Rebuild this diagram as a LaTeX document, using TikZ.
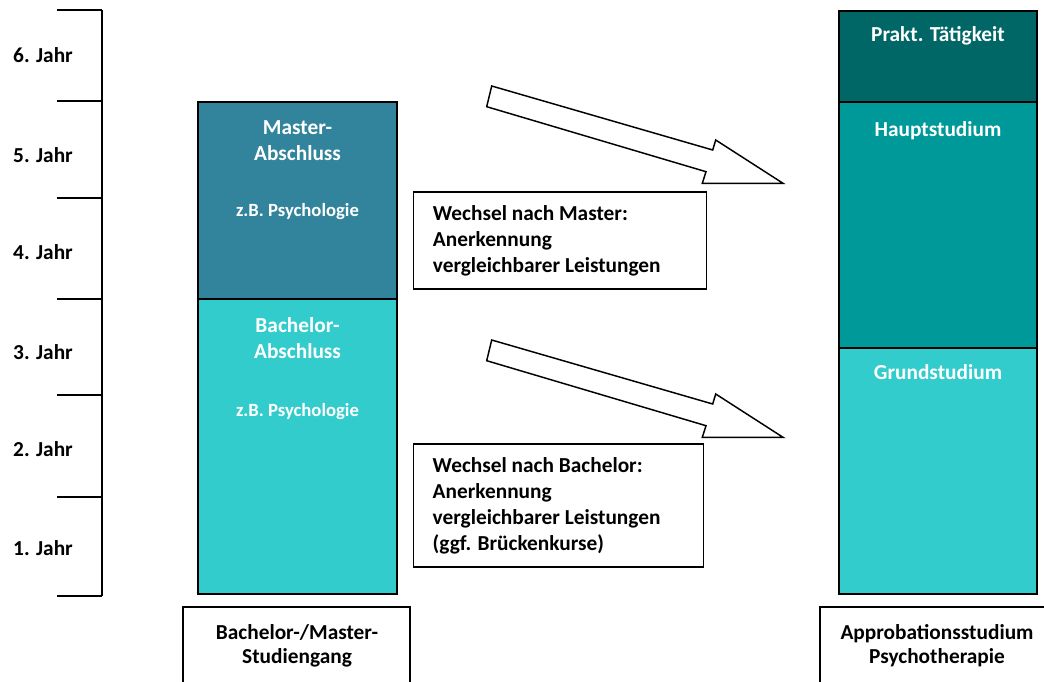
\documentclass[tikz,border=0pt]{standalone}
\usepackage{fontspec}
\setmainfont{Carlito}
\usetikzlibrary{positioning}
\definecolor{masterblue}{RGB}{49,132,155}
\definecolor{bachelorcyan}{RGB}{51,204,204}
\definecolor{hauptteal}{RGB}{0,153,153}
\definecolor{praktteal}{RGB}{0,102,102}

\begin{document}
\begin{tikzpicture}
	[x=0.75pt,y=-0.75pt,line width=1.1pt,
	every node/.style={font=\bfseries\fontsize{16}{19.5}\selectfont},
	block/.style={draw,inner sep=0pt,minimum width=149pt},
	small/.style={font=\bfseries\fontsize{14}{16}\selectfont,text=white},
	head/.style={text=white,align=center},
	infobox/.style={draw,anchor=west,align=flush left,inner xsep=14pt,inner ysep=0pt}]
	\useasboundingbox (0,0) rectangle (1044,681);
	\clip (0,0) rectangle (1044,681);

	% year scale
	\draw (102,10) -- (102,596);
	\foreach \y in {10,101,198,299,395,497,596}
		\draw (57,\y) -- (102,\y);
	\foreach \y/\n in {55/6,155/5,252/4,352/3,449/2,548/1}
		\node[anchor=west,inner sep=0pt] (year\n) at (12.5,\y) {\n. Jahr};

	% bachelor/master column
	\node[block,fill=masterblue,minimum height=147.75pt] (master) at (297.5,200.5) {};
	\node[block,fill=bachelorcyan,minimum height=221.25pt] (bachelor) at (297.5,446.5) {};
	\node[head] (mastertxt) at (297.5,141) {Master-\\Abschluss};
	\node[small] (masterfach) at (297.5,212) {z.B. Psychologie};
	\node[head] (bachelortxt) at (297.5,338) {Bachelor-\\Abschluss};
	\node[small] (bachelorfach) at (297.5,412) {z.B. Psychologie};

	% approbation column
	\node[block,fill=praktteal,minimum width=148.5pt,minimum height=68.25pt] (prakt) at (938,56.5) {};
	\node[block,fill=hauptteal,minimum width=148.5pt,minimum height=184.5pt] (haupt) at (938,225) {};
	\node[block,fill=bachelorcyan,minimum width=148.5pt,minimum height=184.5pt] (grund) at (938,471) {};
	\node[text=white] (prakttxt) at (938,36) {Prakt. T\"atigkeit};
	\node[text=white] (haupttxt) at (938,131) {Hauptstudium};
	\node[text=white] (grundtxt) at (938,372) {Grundstudium};

	% block arrows
	\foreach \s in {0,254}
		\draw[fill=white,line join=miter] (491.7,86+\s) -- (712.7,150+\s) -- (715.7,140+\s)
			-- (783,183.3+\s) -- (702.3,183.3+\s) -- (706,171.7+\s) -- (486.7,106.7+\s) -- cycle;

	% transfer notes
	\node[infobox,minimum width=219.75pt,minimum height=72.75pt,text width=191pt] (wechselmaster) at (413,240.5)
		{Wechsel nach Master:\\Anerkennung\\vergleichbarer Leistungen};
	\node[infobox,minimum width=217.5pt,minimum height=92.25pt,text width=189pt] (wechselbachelor) at (413,505.5)
		{Wechsel nach Bachelor:\\Anerkennung\\vergleichbarer Leistungen\\(ggf. Br\"uckenkurse)};

	% bottom labels
	\draw (183,700) |- (410,607) -- (410,700);
	\draw (820,700) |- (1060,607);
	\node[align=center,font=\bfseries\fontsize{16}{18}\selectfont] (studiengang) at (297,646) {Bachelor-/Master-\\Studiengang};
	\node[align=center,font=\bfseries\fontsize{16}{18}\selectfont] (approbation) at (937,646) {Approbationsstudium\\Psychotherapie};
\end{tikzpicture}
\end{document}
